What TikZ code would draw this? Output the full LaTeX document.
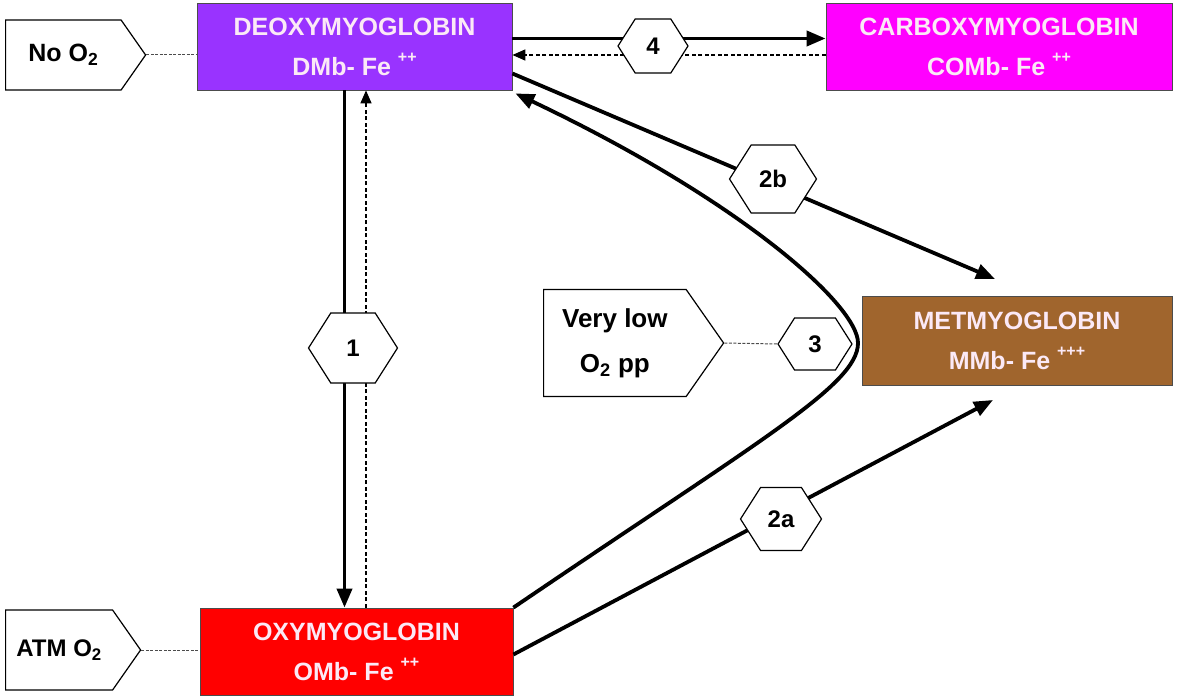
\documentclass[tikz,border=0pt]{standalone}
\usepackage{fontspec}
\setmainfont{Liberation Sans}
\usetikzlibrary{shapes.symbols}
\usetikzlibrary{arrows.meta}
\tikzset{>={Triangle[width=15pt,length=19pt]}}
\definecolor{deoxypurple}{HTML}{9933FF}
\definecolor{carboxypink}{HTML}{FF00FF}
\definecolor{metbrown}{HTML}{A0652D}
\definecolor{oxyred}{HTML}{FF0000}
\definecolor{boxtext}{HTML}{FBE9F6}
\newcommand{\FEOX}[1]{\raisebox{0.5em}{\fontsize{16}{16}\selectfont #1}}

\tikzset{
  mbbox/.style={draw=black!70, line width=0.8pt, minimum width=315pt,
    minimum height=87pt, align=center, text=boxtext, inner sep=0pt,
    font=\fontsize{25}{40}\selectfont\bfseries},
  cond/.style={signal, signal to=east, signal pointer angle=110, draw,
    line width=1.2pt, fill=white, align=center, inner sep=0pt, anchor=west,
    font=\fontsize{25}{44}\selectfont\bfseries},
  hexa/.style={signal, signal to=west and east, signal pointer angle=115,
    draw, line width=1.2pt, fill=white, inner sep=0pt,
    font=\fontsize{24}{24}\selectfont\bfseries},
  main/.style={line width=3.8pt},
  back/.style={line width=1.5pt, dash pattern=on 4pt off 2.5pt,
    -{Triangle[width=11pt,length=13pt]}},
  link/.style={line width=1pt, dash pattern=on 3pt off 1.5pt, draw=black!70},
}

\begin{document}
\begin{tikzpicture}[x=1pt, y=-1pt]
\useasboundingbox (0,0) rectangle (1178,698);

% myoglobin states
\node[mbbox, fill=deoxypurple] (dmb) at (354.5,46.5)
  {DEOXYMYOGLOBIN\\DMb- Fe \FEOX{++}};
\node[mbbox, fill=carboxypink, minimum width=346pt] (comb) at (999,46.5)
  {CARBOXYMYOGLOBIN\\COMb- Fe \FEOX{++}};
\node[mbbox, fill=metbrown, minimum width=310pt, minimum height=89pt] (mmb)
  at (1017,340.5) {METMYOGLOBIN\\MMb- Fe \FEOX{+++}};
\node[mbbox, fill=oxyred, minimum width=313pt] (omb) at (356.5,651.5)
  {OXYMYOGLOBIN\\OMb- Fe \FEOX{++}};

% conditions
\node[cond, minimum width=140pt, minimum height=70pt] (noox) at (5,55)
  {No O\textsubscript{2}};
\node[cond, minimum width=135pt, minimum height=80pt,
  font=\fontsize{24}{44}\selectfont\bfseries] (atmox) at (5,650)
  {ATM O\textsubscript{2}};
\node[cond, minimum width=180pt, minimum height=107pt,
  font=\fontsize{26}{45}\selectfont\bfseries] (lowox) at (543,343)
  {Very low\\O\textsubscript{2} pp};

\coordinate (tipb) at (995,279);
\coordinate (tipa) at (993,400);
\coordinate (bend) at (858,343);

\draw[link] (noox.east) -- (noox.east -| dmb.west);
\draw[link] (atmox.east) -- (atmox.east -| omb.west);

\draw[main,->] ([xshift=-10pt]dmb.south) -- ([xshift=-12pt]omb.north);
\draw[back] ([xshift=9.5pt]omb.north) -- ([xshift=11.5pt]dmb.south);

\draw[main,->] ([yshift=8pt]dmb.east) -- ([yshift=8pt]comb.west);
\draw[back] ([yshift=-8.5pt]comb.west) -- ([yshift=-8.5pt]dmb.east);

\draw[main,->] ([yshift=-27pt]dmb.east) -- (tipb);
\draw[main,->] ([yshift=-3pt]omb.east) -- (tipa);

\draw[main,->] (omb.north east) .. controls (760,440) and (858,385) .. (bend)
  .. controls (858,305) and (740,200) .. ([shift={(3pt,-3pt)}]dmb.south east);

% reactions
\node[hexa, minimum width=89pt, minimum height=70pt] (rone) at (353,348) {1};
\node[hexa, minimum width=87pt, minimum height=68pt] (rtwob) at (773,179) {2b};
\node[hexa, minimum width=81pt, minimum height=63pt] (rtwoa) at (781,519) {2a};
\node[hexa, minimum width=74pt, minimum height=52pt] (rthree) at (815,344) {3};
\node[hexa, minimum width=70pt, minimum height=54pt] (rfour) at (653,46) {4};

\draw[link] (lowox.east) -- (rthree.west);
\end{tikzpicture}
\end{document}
